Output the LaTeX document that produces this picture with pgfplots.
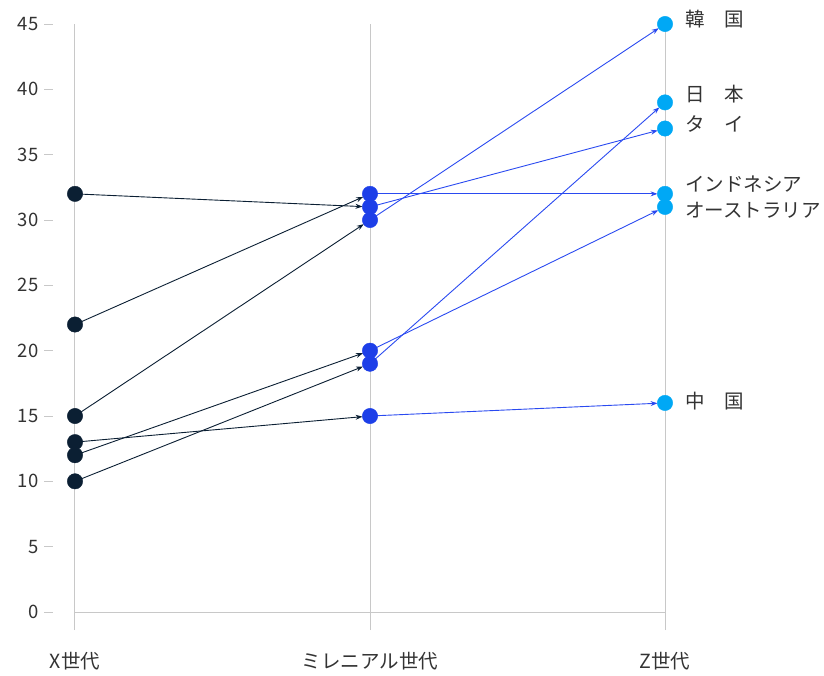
\documentclass[border=0pt]{standalone}
\usepackage{fontspec}
\setmainfont{Noto Sans CJK JP}
\usepackage{pgfplots}
\pgfplotsset{compat=1.18}
\usetikzlibrary{arrows.meta}

\definecolor{genX}{HTML}{0B1F33}
\definecolor{genM}{HTML}{1D3FE8}
\definecolor{genZ}{HTML}{00A8F5}
\definecolor{lineM}{HTML}{2A4AF0}
\definecolor{guide}{HTML}{C8C8C8}
\definecolor{txt}{HTML}{333333}

\begin{document}
\begin{tikzpicture}[x=1pt,y=1pt]
\path[use as bounding box] (-75,-63) rectangle (749,612);
\begin{axis}[
  at={(0,0)}, anchor=south west,
  width=590pt, height=588pt, scale only axis,
  xmin=0, xmax=2, ymin=0, ymax=45,
  clip=false,
  axis line style={draw=none},
  major tick length=0pt,
  xtick={0,1,2},
  xticklabels={X世代, ミレニアル世代, Z世代},
  xticklabel style={font=\fontsize{19.5}{22}\selectfont, text=txt, anchor=base, yshift=-56pt},
  ytick={0,5,...,45},
  /pgf/number format/assume math mode=true,
  yticklabel={\pgfmathprintnumber{\tick}\hspace{6pt}\textcolor{guide}{\rule[0.33em]{9pt}{0.8pt}}},
  yticklabel style={font=\fontsize{18.5}{21}\selectfont, text=txt, anchor=east, xshift=-18pt},
  arr/.style={line width=0.9pt, -{Stealth[length=7pt,width=5pt]}, shorten >=7.5pt},
]
% guide lines for the three generations and the zero baseline
\draw[guide, line width=1pt] (axis cs:0,-1.38) -- (axis cs:0,45);
\draw[guide, line width=1pt] (axis cs:1,-1.38) -- (axis cs:1,45);
\draw[guide, line width=1pt] (axis cs:2,-1.38) -- (axis cs:2,45);
\draw[guide, line width=1pt] (axis cs:0,0) -- (axis cs:2,0);

% Gen X -> Millennials
\addplot[genX, arr] coordinates {(0,15) (1,30)};  % Korea
\addplot[genX, arr] coordinates {(0,10) (1,19)};  % Japan
\addplot[genX, arr] coordinates {(0,32) (1,31)};  % Thailand
\addplot[genX, arr] coordinates {(0,22) (1,32)};  % Indonesia
\addplot[genX, arr] coordinates {(0,12) (1,20)};  % Australia
\addplot[genX, arr] coordinates {(0,13) (1,15)};  % China

% Millennials -> Gen Z
\addplot[lineM, arr] coordinates {(1,30) (2,45)};
\addplot[lineM, arr] coordinates {(1,19) (2,39)};
\addplot[lineM, arr] coordinates {(1,31) (2,37)};
\addplot[lineM, arr] coordinates {(1,32) (2,32)};
\addplot[lineM, arr] coordinates {(1,20) (2,31)};
\addplot[lineM, arr] coordinates {(1,15) (2,16)};

% markers
\addplot[only marks, mark=*, mark size=7.7pt, genX, mark options={fill=genX, draw=genX}]
  coordinates {(0,15) (0,10) (0,32) (0,22) (0,12) (0,13)};
\addplot[only marks, mark=*, mark size=7.7pt, genM, mark options={fill=genM, draw=genM}]
  coordinates {(1,30) (1,19) (1,31) (1,32) (1,20) (1,15)};
\addplot[only marks, mark=*, mark size=7.7pt, genZ, mark options={fill=genZ, draw=genZ}]
  coordinates {(2,45) (2,39) (2,37) (2,32) (2,31) (2,16)};

% country names
\begin{scope}[every node/.style={anchor=west, text=txt, font=\fontsize{19.5}{22}\selectfont, inner sep=0pt, xshift=20pt}]
\node at (axis cs:2,45.35) {韓　国};
\node at (axis cs:2,39.65) {日　本};
\node at (axis cs:2,37.35) {タ　イ};
\node at (axis cs:2,32.75) {インドネシア};
\node at (axis cs:2,30.75) {オーストラリア};
\node at (axis cs:2,16.15) {中　国};
\end{scope}
\end{axis}
\end{tikzpicture}
\end{document}
